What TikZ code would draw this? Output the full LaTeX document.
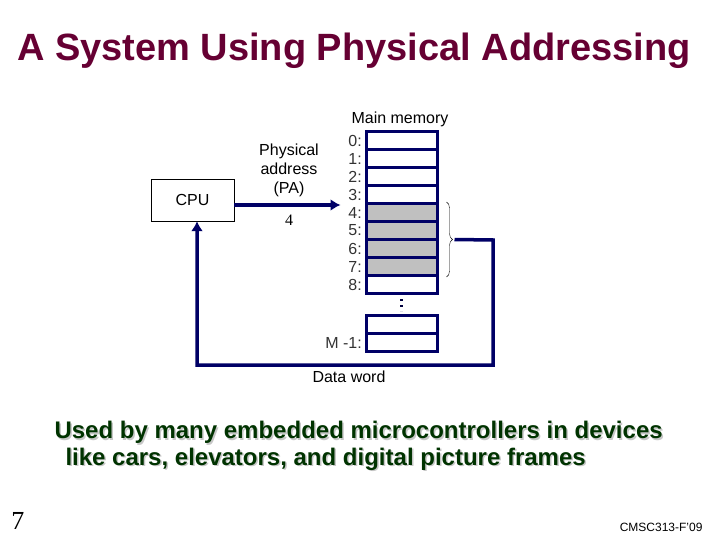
\documentclass[tikz,border=0pt]{standalone}
\usepackage{fontspec}
\setmainfont{Liberation Sans}
\newfontfamily\serifnum{Liberation Serif}
\usetikzlibrary{positioning,arrows.meta,decorations.pathreplacing}
\definecolor{navy}{RGB}{0,0,102}
\definecolor{titlered}{RGB}{102,0,51}
\definecolor{notegreen}{RGB}{0,51,0}
\definecolor{cellgray}{RGB}{192,192,192}

\begin{document}
\begin{tikzpicture}[x=1pt, y=-1pt,
  cell/.style={rectangle, draw=navy, line width=3pt, fill=white, minimum width=71pt, minimum height=18pt, inner sep=0pt},
  addr/.style={anchor=east, inner sep=0pt, font=\fontsize{16}{18}\selectfont, text=black!80},
  lbl/.style={inner sep=0pt, font=\fontsize{16}{19}\selectfont, align=center},
  conn/.style={navy, line width=3.5pt, -{Latex[length=10pt,width=12pt]}}]
\useasboundingbox (0,0) rectangle (720,540);

% title
\node (title) [font=\fontsize{38}{44}\selectfont\bfseries, text=titlered] at (354,51) {A System Using Physical Addressing};

% cpu
\node (cpu) [rectangle, draw, thin, minimum width=83pt, minimum height=42pt, font=\fontsize{16}{18}\selectfont] at (192.5,200) {CPU};

% main memory
\node (mmlabel) [lbl] at (400,119) {Main memory};
\foreach \i in {0,...,8} {
  \ifnum\i>3 \ifnum\i<8
    \node (m\i) [cell, fill=cellgray] at (401.5,140.5+18*\i) {};
  \else
    \node (m\i) [cell] at (401.5,140.5+18*\i) {};
  \fi \else
    \node (m\i) [cell] at (401.5,140.5+18*\i) {};
  \fi
  \node (a\i) [addr] at (362,140.5+18*\i) {\i:};
}
\node (mlast2) [cell] at (401.5,324.5) {};
\node (mlast) [cell] at (401.5,342.5) {};
\node (alast) [addr] at (362,342.5) {M -1:};
\draw[navy!60!black, dash pattern=on 2.2pt off 3.8pt, line width=2.2pt] ([yshift=-4pt]m8.south) -- ([yshift=3pt]mlast2.north);

% physical address
\node (palabel) [lbl] at (289,170) {Physical\\address\\(PA)};
\node (pa) [inner sep=0pt, font=\serifnum\fontsize{16}{18}\selectfont] at (289,220) {4};
\draw[conn, shorten >=24pt] (cpu.east |- m3.south) -- (m3.south west);

% data word
\draw[decorate, decoration={brace, amplitude=6pt}, thin] ([xshift=8pt]m4.north east) -- ([xshift=8pt]m7.south east) coordinate[midway, xshift=8pt] (tip);
\coordinate (turn) at (493,240);
\coordinate (dwturn) at (197,365);
\draw[conn] (tip) -- (turn) |- (dwturn) -- (dwturn |- cpu.south);
\node (dwlabel) [lbl] at (349,377) {Data word};

% note
\node (noteshadow) [font=\fontsize{24}{27}\selectfont\bfseries, text=black!22, align=left, anchor=north west] at (52.5,419.5) {Used by many embedded microcontrollers in devices\\[-0.5pt]\hspace*{11pt}like cars, elevators, and digital picture frames};
\node (note) [font=\fontsize{24}{27}\selectfont\bfseries, text=notegreen, align=left, anchor=north west] at (51,418) {Used by many embedded microcontrollers in devices\\[-0.5pt]\hspace*{11pt}like cars, elevators, and digital picture frames};

% footer
\node (page) [font=\serifnum\fontsize{26}{30}\selectfont] at (18,521) {7};
\node (course) [font=\fontsize{12}{14}\selectfont, anchor=east] at (706,527) {CMSC313-F'09};
\end{tikzpicture}
\end{document}
